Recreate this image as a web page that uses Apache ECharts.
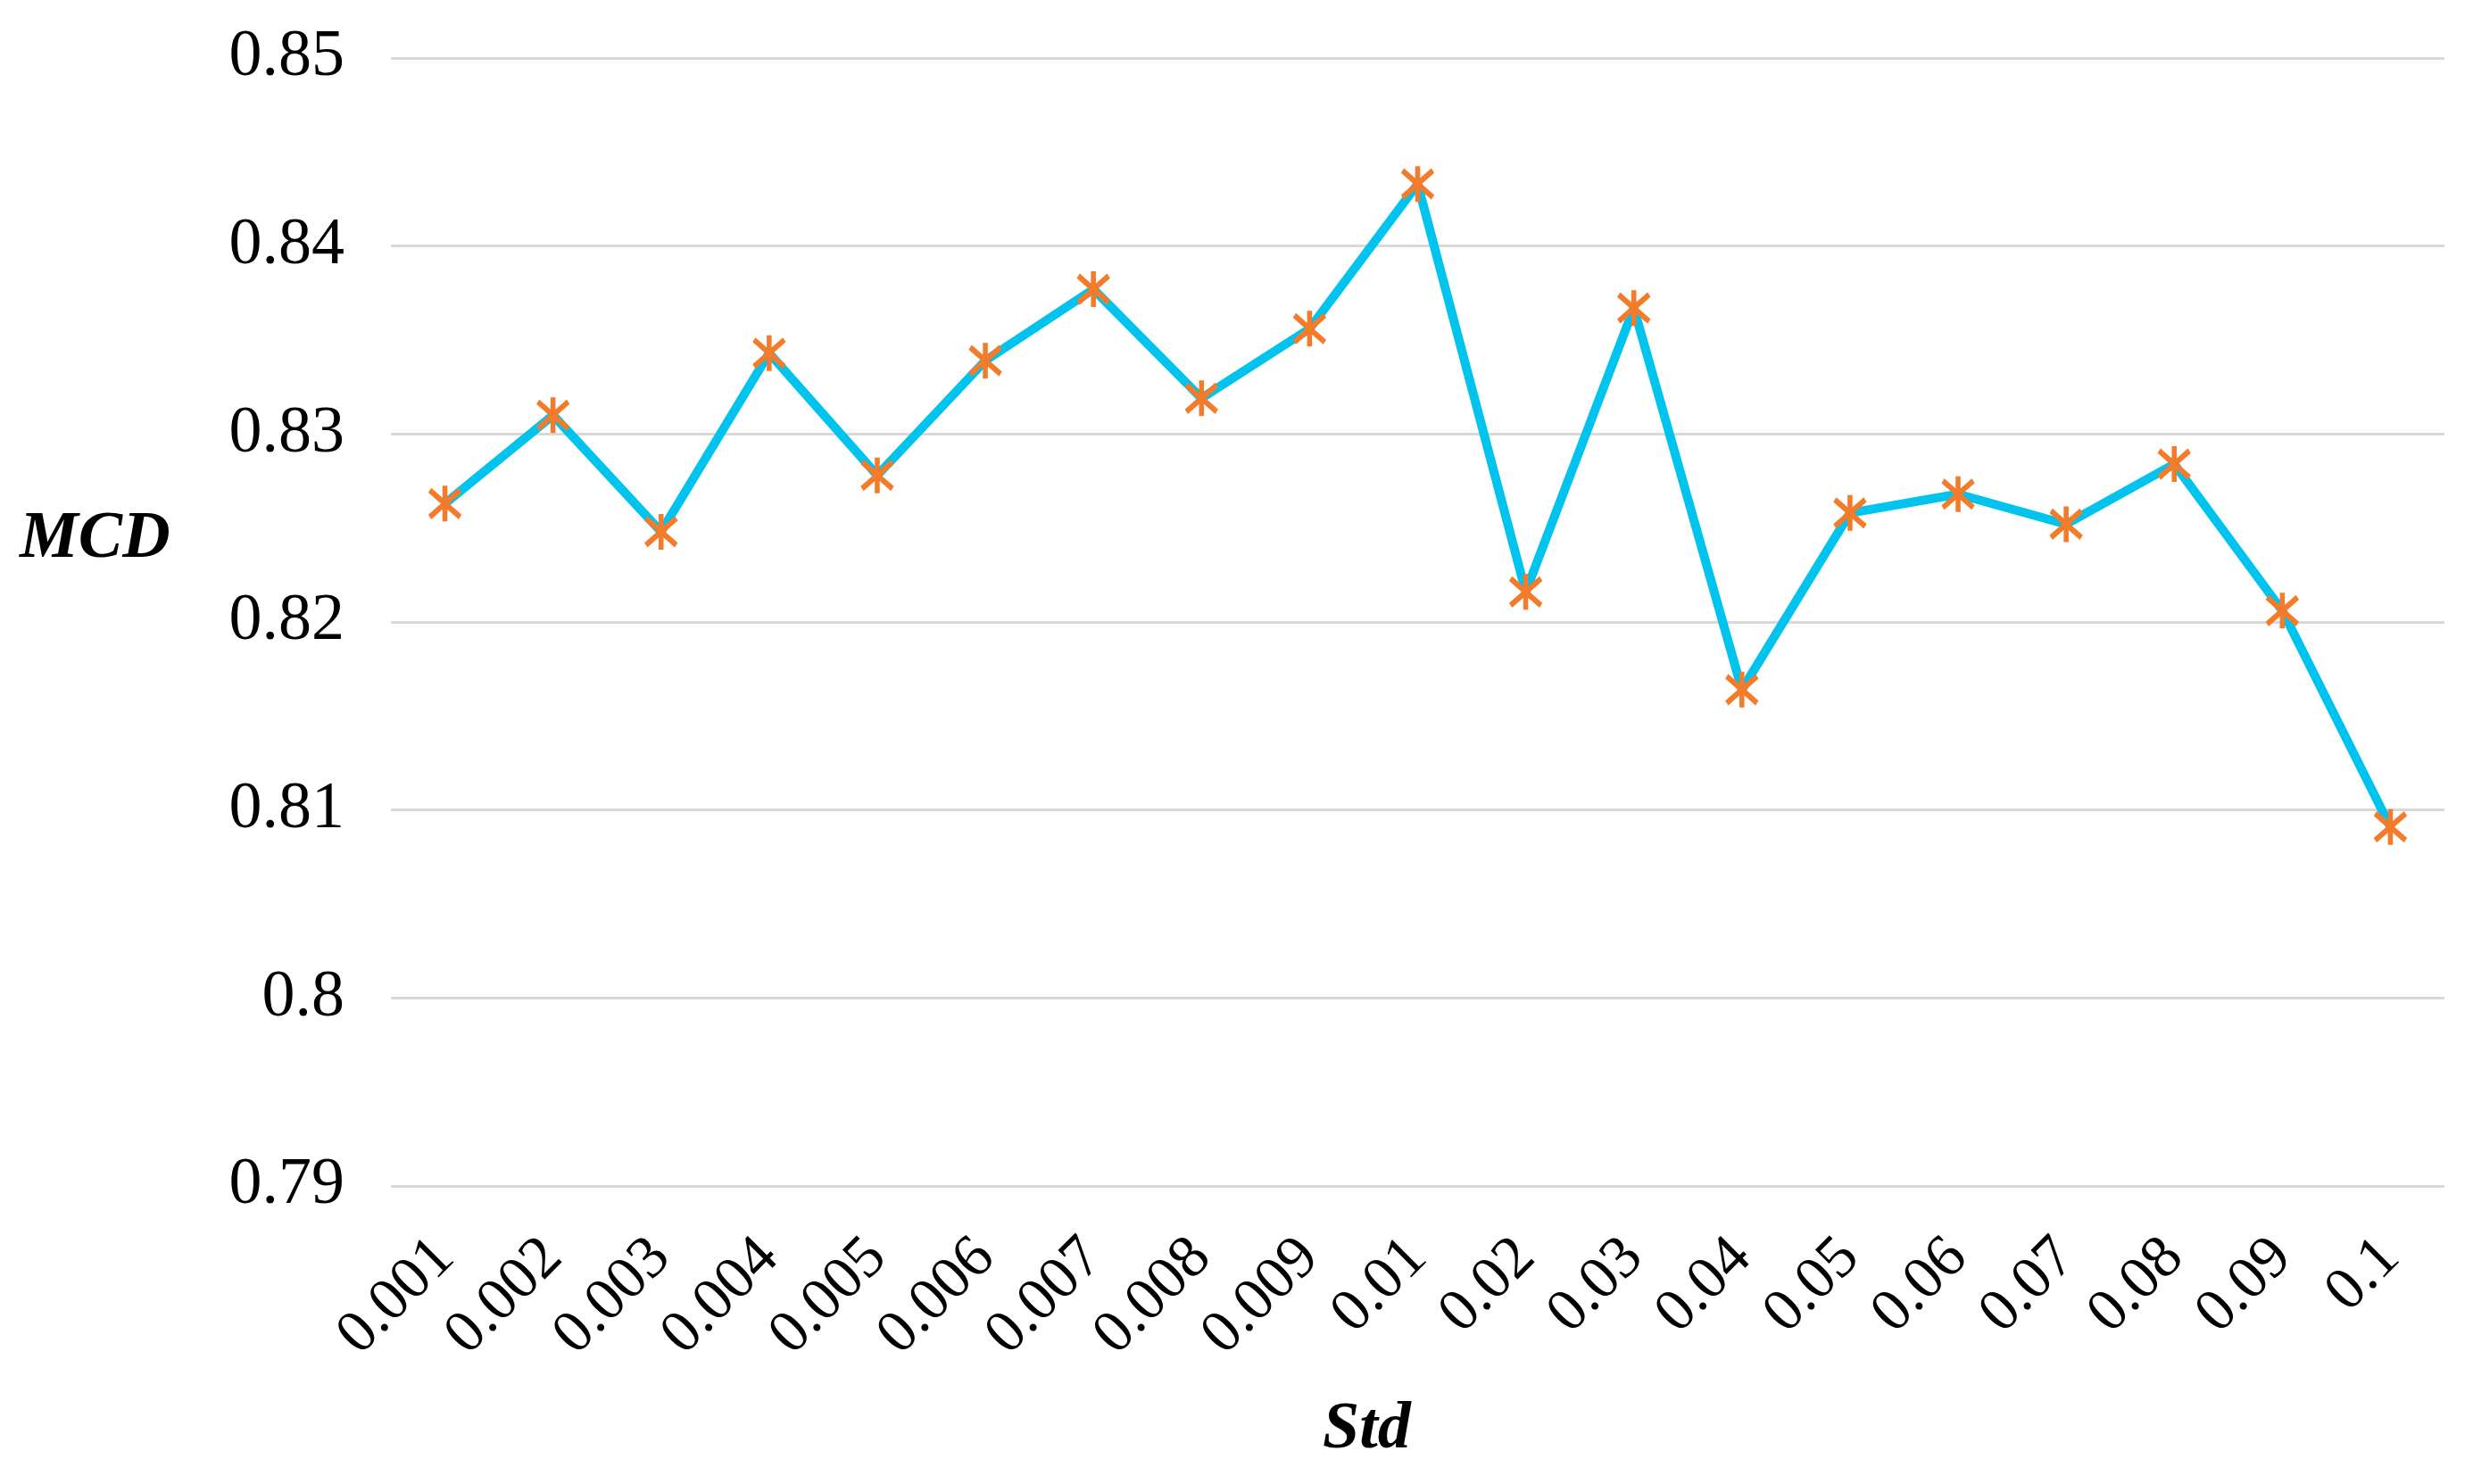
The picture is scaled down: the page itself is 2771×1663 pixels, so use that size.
<!DOCTYPE html>
<html>
<head>
<meta charset="utf-8">
<script src="https://cdn.jsdelivr.net/npm/echarts@6/dist/echarts.min.js"></script>
<style>
html,body{margin:0;padding:0;background:#fff;}
#c{width:2771px;height:1663px;}
</style>
</head>
<body>
<div id="c"></div>
<script>
const categories = ['0.001','0.002','0.003','0.004','0.005','0.006','0.007','0.008','0.009','0.01','0.02','0.03','0.04','0.05','0.06','0.07','0.08','0.09','0.1'];
const mcdValues = [0.8263,0.8310,0.8248,0.8343,0.8278,0.8339,0.8377,0.8319,0.8356,0.8433,0.8216,0.8367,0.8164,0.8258,0.8268,0.8252,0.8284,0.8206,0.8091];
const yTicks = {min:0.79, max:0.85, interval:0.01};
const xTitle = 'Std';
const yTitle = 'MCD';

const chart = echarts.init(document.getElementById('c'));
const serif = '"Liberation Serif","Times New Roman",serif';
const titleStyle = {fontFamily:serif, fontSize:74, fontWeight:'bold', fontStyle:'italic', color:'#000'};
chart.setOption({
  animation:false,
  backgroundColor:'#ffffff',
  title:[
    {text:yTitle, left:22, top:568, padding:0, textStyle:titleStyle},
    {text:xTitle, left:1482, top:1566, padding:0, textStyle:titleStyle}
  ],
  grid:{left:438, right:32, top:65, bottom:334},
  xAxis:{
    type:'category',
    data:categories,
    boundaryGap:true,
    axisLine:{show:false},
    axisTick:{show:false},
    axisLabel:{rotate:45, fontFamily:serif, fontSize:68, color:'#000', margin:70, interval:0}
  },
  yAxis:{
    type:'value',
    min:yTicks.min, max:yTicks.max, interval:yTicks.interval,
    axisLine:{show:false},
    axisTick:{show:false},
    splitLine:{lineStyle:{color:'#d9d9d9', width:3}},
    axisLabel:{fontFamily:serif, fontSize:74, color:'#000', margin:52,
      formatter:function(v){return String(Math.round(v*100)/100);}}
  },
  series:[{
    type:'line',
    data:mcdValues,
    lineStyle:{color:'#00c3ee', width:10},
    symbol:'path://M0,0L0,32M-14,4L14,28M14,4L-14,28',
    symbolSize:[34,40],
    itemStyle:{color:'#f47b2a', borderColor:'#f47b2a', borderWidth:6},
    z:3
  }]
});
</script>
</body>
</html>
